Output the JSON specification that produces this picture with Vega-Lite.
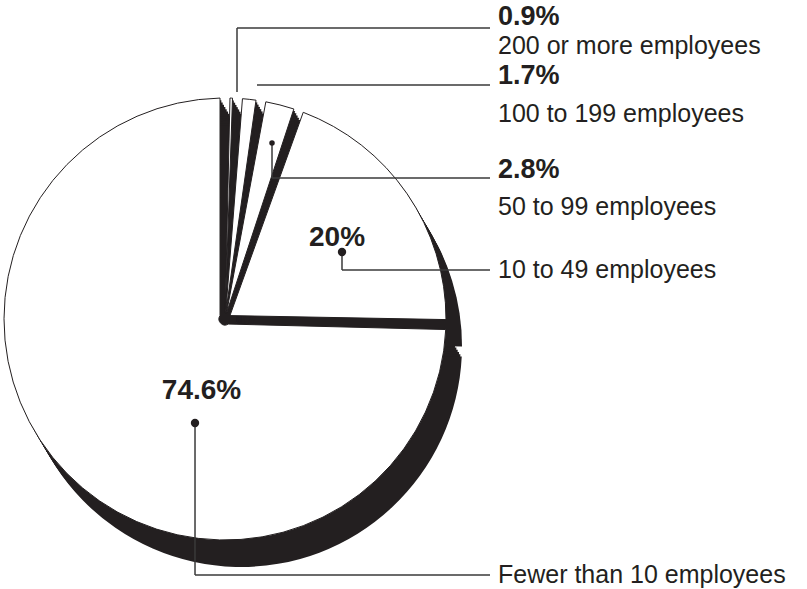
{
  "$schema": "https://vega.github.io/schema/vega-lite/v6.json",
  "width": 807,
  "height": 589,
  "padding": 0,
  "autosize": {"type": "none"},
  "background": "white",
  "config": {"view": {"stroke": null}, "font": "Liberation Sans", "text": {"font": "Liberation Sans"}},
  "datasets": {
    "slices": [
      {"category": "200 or more employees", "share": 0.9},
      {"category": "100 to 199 employees", "share": 1.7},
      {"category": "50 to 99 employees", "share": 2.8},
      {"category": "10 to 49 employees", "share": 20},
      {"category": "Fewer than 10 employees", "share": 74.6}
    ],
    "leaders": [
      {"category": "200 or more employees", "x": 0.0543, "y": 1.0271, "x2": 0.0543, "y2": 1.3167},
      {"category": "200 or more employees", "x": 0.0543, "y": 1.3167, "x2": 1.1991, "y2": 1.3167},
      {"category": "100 to 199 employees", "x": 0.1448, "y": 1.0588, "x2": 1.1991, "y2": 1.0588},
      {"category": "50 to 99 employees", "x": 0.2127, "y": 0.7964, "x2": 0.2127, "y2": 0.6380},
      {"category": "50 to 99 employees", "x": 0.2127, "y": 0.6380, "x2": 1.1991, "y2": 0.6380},
      {"category": "10 to 49 employees", "x": 0.5294, "y": 0.3032, "x2": 0.5294, "y2": 0.2217},
      {"category": "10 to 49 employees", "x": 0.5294, "y": 0.2217, "x2": 1.1991, "y2": 0.2217},
      {"category": "Fewer than 10 employees", "x": -0.1357, "y": -0.4706, "x2": -0.1357, "y2": -1.1584},
      {"category": "Fewer than 10 employees", "x": -0.1357, "y": -1.1584, "x2": 1.1991, "y2": -1.1584}
    ],
    "dots": [
      {"category": "50 to 99 employees", "x": 0.2127, "y": 0.7964, "big": false},
      {"category": "10 to 49 employees", "x": 0.5294, "y": 0.3032, "big": true},
      {"category": "Fewer than 10 employees", "x": -0.1357, "y": -0.4706, "big": true}
    ],
    "pctRight": [
      {"label": "0.9%", "x": 1.2353, "y": 1.3665},
      {"label": "1.7%", "x": 1.2353, "y": 1.0995},
      {"label": "2.8%", "x": 1.2353, "y": 0.6742}
    ],
    "pctInside": [
      {"label": "20%", "x": 0.5068, "y": 0.3665},
      {"label": "74.6%", "x": -0.1063, "y": -0.3258}
    ],
    "names": [
      {"label": "200 or more employees", "x": 1.2353, "y": 1.2353},
      {"label": "100 to 199 employees", "x": 1.2353, "y": 0.9276},
      {"label": "50 to 99 employees", "x": 1.2353, "y": 0.5068},
      {"label": "10 to 49 employees", "x": 1.2353, "y": 0.2217},
      {"label": "Fewer than 10 employees", "x": 1.2353, "y": -1.1584}
    ]
  },
  "encoding": {
    "x": {"type": "quantitative", "scale": {"domain": [-1.0181, 2.63348], "nice": false, "zero": false}, "axis": null},
    "y": {"type": "quantitative", "scale": {"domain": [-1.22172, 1.44344], "nice": false, "zero": false}, "axis": null}
  },
  "layer": [
    {"data": {"name": "slices"}, "mark": {"type": "arc", "radius": 221, "innerRadius": 6, "padAngle": 0.045, "fill": "#231f20", "xOffset": 1.33, "yOffset": 2.25},
     "encoding": {"x": {"datum": 0}, "y": {"datum": 0}, "theta": {"field": "share", "type": "quantitative", "stack": true}}},
    {"data": {"name": "slices"}, "mark": {"type": "arc", "radius": 221, "innerRadius": 6, "padAngle": 0.045, "fill": "#231f20", "xOffset": 2.67, "yOffset": 4.5},
     "encoding": {"x": {"datum": 0}, "y": {"datum": 0}, "theta": {"field": "share", "type": "quantitative", "stack": true}}},
    {"data": {"name": "slices"}, "mark": {"type": "arc", "radius": 221, "innerRadius": 6, "padAngle": 0.045, "fill": "#231f20", "xOffset": 4, "yOffset": 6.75},
     "encoding": {"x": {"datum": 0}, "y": {"datum": 0}, "theta": {"field": "share", "type": "quantitative", "stack": true}}},
    {"data": {"name": "slices"}, "mark": {"type": "arc", "radius": 221, "innerRadius": 6, "padAngle": 0.045, "fill": "#231f20", "xOffset": 5.33, "yOffset": 9},
     "encoding": {"x": {"datum": 0}, "y": {"datum": 0}, "theta": {"field": "share", "type": "quantitative", "stack": true}}},
    {"data": {"name": "slices"}, "mark": {"type": "arc", "radius": 221, "innerRadius": 6, "padAngle": 0.045, "fill": "#231f20", "xOffset": 6.67, "yOffset": 11.25},
     "encoding": {"x": {"datum": 0}, "y": {"datum": 0}, "theta": {"field": "share", "type": "quantitative", "stack": true}}},
    {"data": {"name": "slices"}, "mark": {"type": "arc", "radius": 221, "innerRadius": 6, "padAngle": 0.045, "fill": "#231f20", "xOffset": 8, "yOffset": 13.5},
     "encoding": {"x": {"datum": 0}, "y": {"datum": 0}, "theta": {"field": "share", "type": "quantitative", "stack": true}}},
    {"data": {"name": "slices"}, "mark": {"type": "arc", "radius": 221, "innerRadius": 6, "padAngle": 0.045, "fill": "#231f20", "xOffset": 9.33, "yOffset": 15.75},
     "encoding": {"x": {"datum": 0}, "y": {"datum": 0}, "theta": {"field": "share", "type": "quantitative", "stack": true}}},
    {"data": {"name": "slices"}, "mark": {"type": "arc", "radius": 221, "innerRadius": 6, "padAngle": 0.045, "fill": "#231f20", "xOffset": 10.67, "yOffset": 18},
     "encoding": {"x": {"datum": 0}, "y": {"datum": 0}, "theta": {"field": "share", "type": "quantitative", "stack": true}}},
    {"data": {"name": "slices"}, "mark": {"type": "arc", "radius": 221, "innerRadius": 6, "padAngle": 0.045, "fill": "#231f20", "xOffset": 12, "yOffset": 20.25},
     "encoding": {"x": {"datum": 0}, "y": {"datum": 0}, "theta": {"field": "share", "type": "quantitative", "stack": true}}},
    {"data": {"name": "slices"}, "mark": {"type": "arc", "radius": 221, "innerRadius": 6, "padAngle": 0.045, "fill": "#231f20", "xOffset": 13.33, "yOffset": 22.5},
     "encoding": {"x": {"datum": 0}, "y": {"datum": 0}, "theta": {"field": "share", "type": "quantitative", "stack": true}}},
    {"data": {"name": "slices"}, "mark": {"type": "arc", "radius": 221, "innerRadius": 6, "padAngle": 0.045, "fill": "#231f20", "xOffset": 14.67, "yOffset": 24.75},
     "encoding": {"x": {"datum": 0}, "y": {"datum": 0}, "theta": {"field": "share", "type": "quantitative", "stack": true}}},
    {"data": {"name": "slices"}, "mark": {"type": "arc", "radius": 221, "innerRadius": 6, "padAngle": 0.045, "fill": "#231f20", "xOffset": 16, "yOffset": 27},
     "encoding": {"x": {"datum": 0}, "y": {"datum": 0}, "theta": {"field": "share", "type": "quantitative", "stack": true}}},
    {"data": {"name": "slices"}, "mark": {"type": "arc", "radius": 221, "innerRadius": 6, "padAngle": 0.045, "fill": "white", "stroke": "#231f20", "strokeWidth": 1},
     "encoding": {"x": {"datum": 0}, "y": {"datum": 0}, "theta": {"field": "share", "type": "quantitative", "stack": true}}},
    {"data": {"name": "leaders"}, "mark": {"type": "rule", "stroke": "#3a3a3a", "strokeWidth": 1.5},
     "encoding": {"x": {"field": "x"}, "y": {"field": "y"}, "x2": {"field": "x2"}, "y2": {"field": "y2"}}},
    {"data": {"name": "dots"}, "mark": {"type": "point", "filled": true, "opacity": 1, "color": "#231f20"},
     "encoding": {"x": {"field": "x"}, "y": {"field": "y"}, "size": {"field": "big", "type": "nominal", "scale": {"domain": [false, true], "range": [30, 70]}, "legend": null}}},
    {"data": {"name": "pctRight"}, "mark": {"type": "text", "align": "left", "baseline": "middle", "fontSize": 27, "fontWeight": "bold", "color": "#231f20"},
     "encoding": {"x": {"field": "x"}, "y": {"field": "y"}, "text": {"field": "label"}}},
    {"data": {"name": "pctInside"}, "mark": {"type": "text", "align": "center", "baseline": "middle", "fontSize": 28, "fontWeight": "bold", "color": "#231f20"},
     "encoding": {"x": {"field": "x"}, "y": {"field": "y"}, "text": {"field": "label"}}},
    {"data": {"name": "names"}, "mark": {"type": "text", "align": "left", "baseline": "middle", "fontSize": 25, "color": "#231f20"},
     "encoding": {"x": {"field": "x"}, "y": {"field": "y"}, "text": {"field": "label"}}}
  ]
}
